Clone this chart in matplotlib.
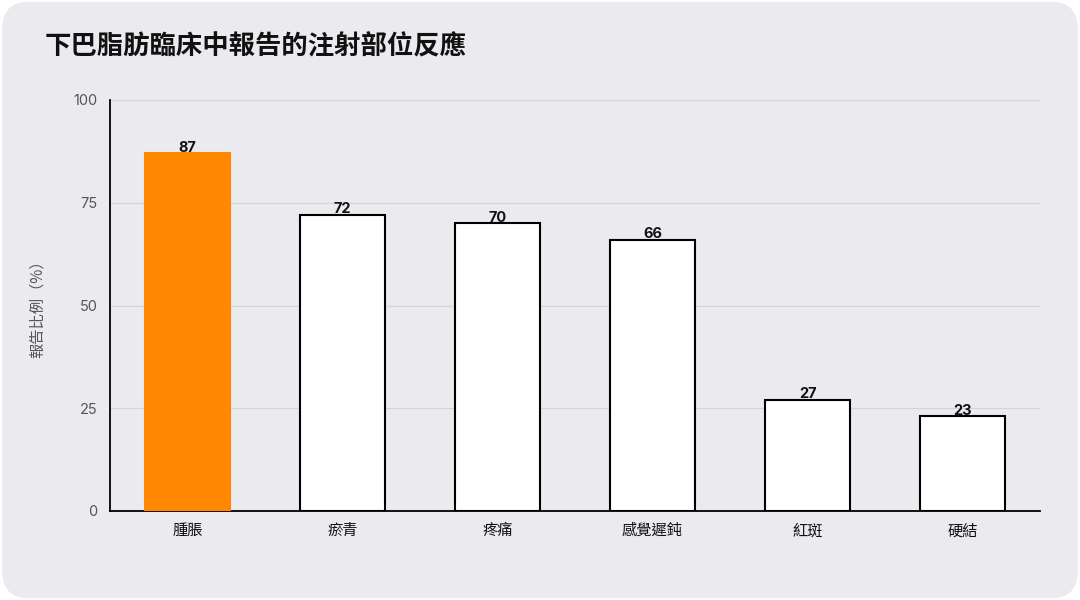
import matplotlib
matplotlib.use("Agg")
import matplotlib.pyplot as plt
from matplotlib.patches import FancyBboxPatch

categories = ["腫脹", "瘀青", "疼痛", "感覺遲鈍", "紅斑", "硬結"]
values = [87, 72, 70, 66, 27, 23]
colors = ["#ff8800", "white", "white", "white", "white", "white"]
edges = ["#ff8800", "black", "black", "black", "black", "black"]
yticks = [0, 25, 50, 75, 100]

plt.rcParams["font.family"] = ["Noto Sans CJK TC", "DejaVu Sans"]
NUM_FONT = ["Inter", "Noto Sans CJK TC", "DejaVu Sans"]


def main():
    fig = plt.figure(figsize=(10.8, 6), dpi=100, facecolor="white")
    card = FancyBboxPatch((0.002, 0.003), 0.996, 0.994,
                          boxstyle="round,pad=0,rounding_size=0.025",
                          transform=fig.transFigure, facecolor="#ebebef",
                          edgecolor="none", mutation_aspect=1.8, zorder=-10)
    fig.patches.append(card)

    ax = fig.add_axes([110 / 1080, 89 / 600, 930 / 1080, 411 / 600])
    ax.set_zorder(1)
    ax.set_facecolor("none")
    x = range(len(categories))
    ax.bar(x, values, width=0.55, color=colors, edgecolor=edges,
           linewidth=1.5, zorder=3)
    for i, v in zip(x, values):
        ax.text(i, v - 0.3, str(v), ha="center", va="bottom", fontsize=10.5,
                fontweight="bold", color="#111111", zorder=4, family=NUM_FONT)

    ax.set_xlim(-0.5, len(categories) - 0.5)
    ax.set_ylim(0, 100)
    ax.set_yticks(yticks)
    ax.set_yticklabels([str(t) for t in yticks], family=NUM_FONT)
    ax.set_xticks(list(x))
    ax.set_xticklabels(categories, fontsize=11, color="#111111",
                       fontweight="medium")
    ax.tick_params(axis="y", length=0, labelsize=10.5, labelcolor="#555555", pad=9)
    ax.tick_params(axis="x", length=0, pad=8)
    ax.grid(axis="y", color="#d4d4d8", linewidth=0.8, zorder=0)
    for side in ["top", "right"]:
        ax.spines[side].set_visible(False)
    ax.spines["left"].set_linewidth(1.3)
    ax.spines["bottom"].set_linewidth(1.3)
    ax.set_ylabel("報告比例（%）", fontsize=11, color="#555555", labelpad=20)

    fig.text(45 / 1080, 1 - 47 / 600, "下巴脂肪臨床中報告的注射部位反應",
             fontsize=19, fontweight="bold", va="center", ha="left",
             color="#111111")

    fig.savefig("out.png", dpi=100, facecolor=fig.get_facecolor())


if __name__ == "__main__":
    main()
